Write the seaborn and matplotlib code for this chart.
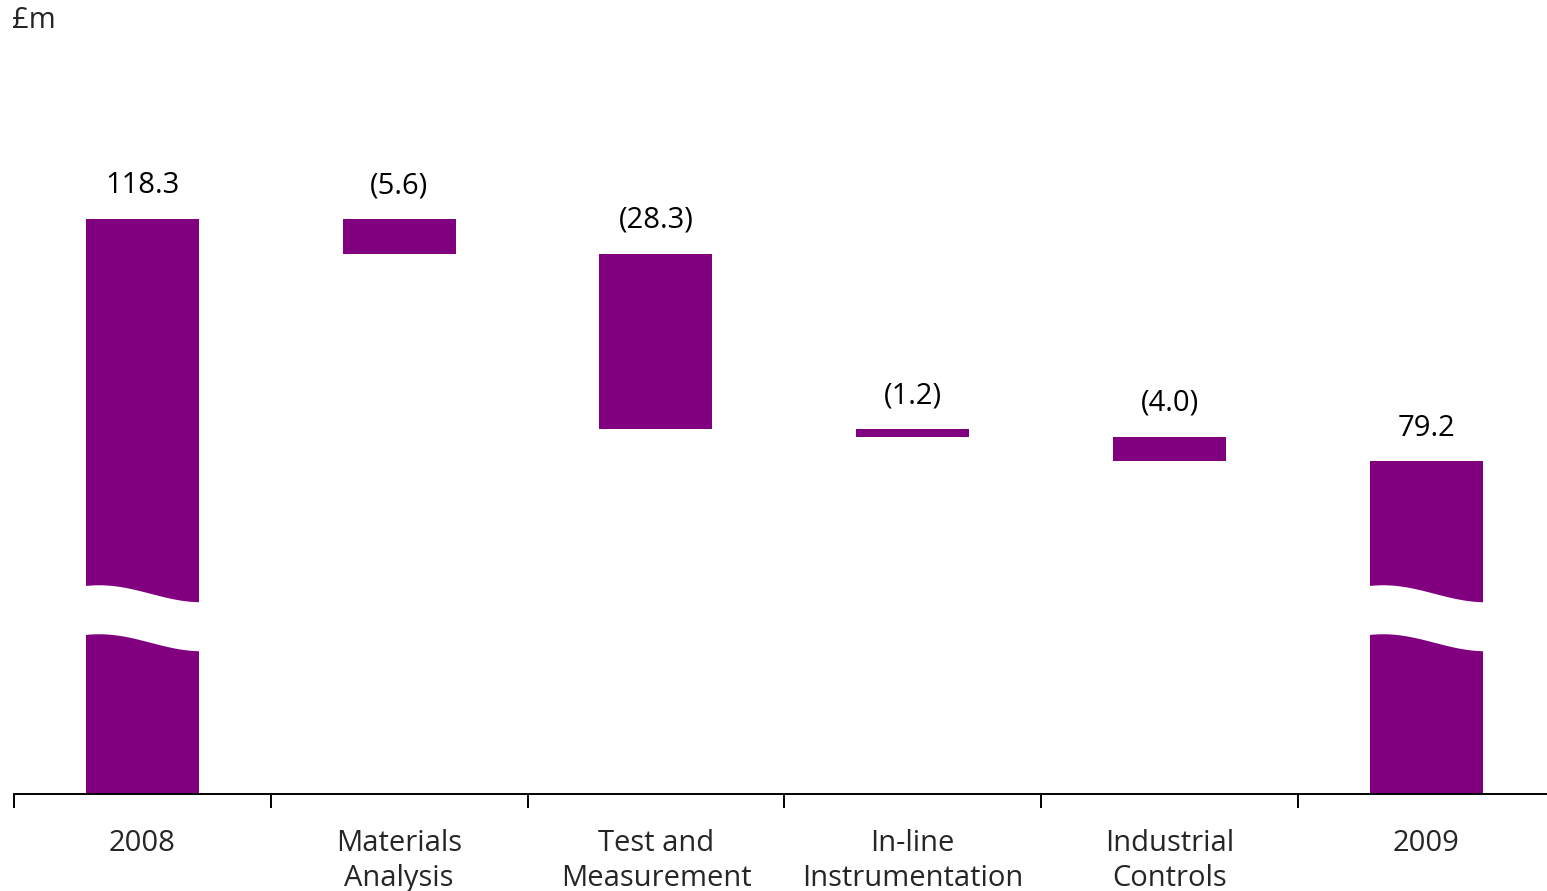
import numpy as np
import pandas as pd
import seaborn as sns
from matplotlib import pyplot as plt

## Chart data
categories = ["2008", "Materials\nAnalysis", "Test and\nMeasurement",
              "In-line\nInstrumentation", "Industrial\nControls", "2009"]
start_value = 118.3
changes = [-5.6, -28.3, -1.2, -4.0]
end_value = 79.2
value_labels = ["118.3", "(5.6)", "(28.3)", "(1.2)", "(4.0)", "79.2"]

## Waterfall levels -> top / bottom of every bar
levels = start_value + np.cumsum([0] + changes)
tops = np.array([start_value] + list(levels[:-1]) + [end_value])
bottoms = np.array([0] + list(levels[1:]) + [0])

df = pd.DataFrame({"category": categories, "top": tops,
                   "bottom": bottoms, "height": tops - bottoms})

sns.set_theme(style="white")
plt.rcParams["font.family"] = ["Open Sans", "DejaVu Sans"]
plt.rcParams["font.size"] = 21

purple = "#800080"

fig = plt.figure(figsize=(15.47, 8.91), dpi=100)
ax = fig.add_axes([14 / 1547, 97 / 891, 1533 / 1547, 794 / 891])

sns.barplot(data=df, x="category", y="height", bottom=df["bottom"].values,
            color=purple, saturation=1, width=0.44, errorbar=None,
            linewidth=0, ax=ax)

ax.set_xlim(-0.5, 5.47)
ax.set_ylim(25.56, 153.6)

## Axis break marks on the two total bars (white wavy band)
px = 6.2  # pixels per £m, only used for the wave shape
t = np.linspace(0, 1, 200)
wave = 8.5 * (1 - np.cos(np.pi * (t * 1.15 - 0.15))) / px
break_top = 59.3
break_gap = 7.9
for i in [0, 5]:
    xs = i - 0.23 + t * 0.46
    upper = break_top - wave
    ax.fill_between(xs, upper - break_gap, upper, color="white", lw=0, zorder=3)

## Value labels above bars
for i, row in df.iterrows():
    ax.annotate(value_labels[i], (i, row["top"]), xytext=(0, 24),
                textcoords="offset points", ha="center", va="center",
                fontsize=21, color="black")

## Axes styling
for s in ["left", "top", "right"]:
    ax.spines[s].set_visible(False)
ax.spines["bottom"].set_color("black")
ax.spines["bottom"].set_linewidth(1.4)
ax.set_yticks([])
ax.set_xlabel("")
ax.set_ylabel("")
ax.set_xticks(range(len(categories)))
ax.set_xticklabels(categories, linespacing=1.3)
ax.set_xticks(np.arange(-0.5, 5), minor=True)
ax.tick_params(axis="x", which="major", length=0, pad=25, labelsize=21)
ax.tick_params(axis="x", which="minor", length=10, width=1.4,
               direction="out", color="black", bottom=True)

fig.text(12 / 1547, 1 - 21 / 891, "£m", ha="left", va="center", fontsize=21)

fig.savefig("out.png", dpi=100)
